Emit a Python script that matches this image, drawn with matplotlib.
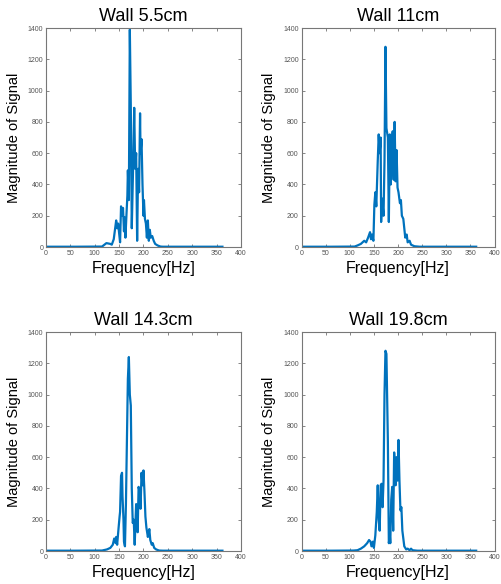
import numpy as np
import matplotlib
matplotlib.use("Agg")
import matplotlib.pyplot as plt

plt.rcParams['font.family'] = ['Liberation Sans', 'DejaVu Sans']

# frequency (Hz) / magnitude pairs
f_55 = [0, 60, 115, 124, 132, 135, 139, 144, 146, 148, 150, 152, 154, 156, 158, 160, 161,
        163, 165, 167, 168, 170, 172, 174, 176, 179, 181, 183, 185, 187, 189, 191, 193,
        194, 196, 198, 200, 201, 203, 205, 207, 209, 211, 213, 215, 218, 221, 224, 229,
        235, 240, 300, 362]
m_55 = [2, 2, 3, 25, 20, 15, 50, 170, 120, 150, 90, 30, 260, 200, 250, 100, 190,
        60, 200, 330, 490, 300, 1390, 900, 120, 550, 890, 500, 600, 40, 500, 350, 855,
        600, 690, 400, 200, 300, 180, 150, 60, 170, 40, 110, 60, 70, 40, 20, 10,
        3, 2, 2, 2]

f_11 = [0, 60, 110, 116, 123, 130, 134, 138, 142, 144, 146, 149, 151, 153, 155, 158, 160,
        162, 164, 165, 167, 170, 172, 174, 176, 179, 181, 183, 185, 187, 189, 191, 193,
        195, 197, 199, 201, 204, 206, 208, 211, 213, 215, 218, 220, 224, 227, 234, 245,
        300, 362]
m_11 = [2, 2, 3, 10, 20, 40, 30, 60, 95, 50, 80, 40, 270, 350, 260, 550, 720,
        600, 700, 160, 310, 200, 550, 1280, 760, 700, 160, 720, 400, 650, 740, 430, 800,
        420, 620, 380, 350, 280, 300, 200, 180, 120, 60, 80, 30, 40, 15, 5, 2,
        2, 2]

f_143 = [0, 60, 115, 125, 132, 137, 140, 143, 144, 146, 149, 151, 152, 154, 156, 157, 159,
         160, 162, 164, 166, 168, 170, 172, 174, 176, 178, 180, 182, 184, 185, 187, 188,
         190, 192, 194, 196, 198, 200, 202, 204, 206, 209, 211, 212, 214, 217, 219, 222,
         226, 232, 240, 300, 362]
m_143 = [2, 2, 3, 10, 20, 40, 80, 50, 90, 40, 150, 220, 250, 480, 500, 350, 200,
         60, 30, 300, 700, 1100, 1240, 1000, 930, 400, 180, 200, 40, 220, 300, 240, 120,
         410, 380, 270, 500, 420, 515, 380, 220, 150, 90, 120, 140, 70, 40, 50, 20,
         10, 3, 2, 2, 2]

f_198 = [0, 60, 108, 116, 123, 130, 136, 140, 143, 145, 148, 150, 153, 156, 158, 160, 162,
         164, 166, 168, 170, 172, 174, 176, 179, 181, 183, 184, 186, 188, 190, 192, 195,
         197, 199, 201, 203, 205, 207, 209, 211, 213, 215, 217, 220, 224, 227, 230, 240,
         300, 362]
m_198 = [2, 2, 3, 5, 15, 30, 50, 70, 60, 30, 60, 20, 100, 250, 420, 200, 130,
         420, 430, 280, 450, 1000, 1280, 1260, 700, 50, 100, 50, 330, 410, 130, 630, 420,
         600, 450, 710, 450, 260, 280, 130, 80, 30, 20, 10, 15, 5, 15, 5, 2,
         2, 2]

titles = ["Wall 5.5cm", "Wall 11cm", "Wall 14.3cm", "Wall 19.8cm"]
series = [(f_55, m_55), (f_11, m_11), (f_143, m_143), (f_198, m_198)]
x_ticks = [0, 50, 100, 150, 200, 250, 300, 350, 400]
y_ticks = [0, 200, 400, 600, 800, 1000, 1200, 1400]

positions = [
    [0.0916, 0.577, 0.3884, 0.375],
    [0.6006, 0.577, 0.3845, 0.375],
    [0.0916, 0.0565, 0.3884, 0.375],
    [0.6006, 0.0565, 0.3845, 0.375],
]

fig = plt.figure(figsize=(5.02, 5.84), dpi=100)

for pos, title, (f, m) in zip(positions, titles, series):
    ax = fig.add_axes(pos)
    ax.plot(f, m, color='#0072BD', linewidth=1.6)
    ax.set_xlim(0, 400)
    ax.set_ylim(0, 1400)
    ax.set_xticks(x_ticks)
    ax.set_yticks(y_ticks)
    ax.tick_params(direction='in', top=True, right=True, length=2.5, width=0.5,
                   labelsize=5, colors='#555555', pad=2)
    for s in ax.spines.values():
        s.set_color('#777777')
        s.set_linewidth(0.8)
    ax.set_title(title, fontsize=13, pad=5)
    ax.set_xlabel("Frequency[Hz]", fontsize=11.5, labelpad=3)
    ax.set_ylabel("Magnitude of Signal", fontsize=10.5, labelpad=5)

fig.savefig("out.png", dpi=100)
